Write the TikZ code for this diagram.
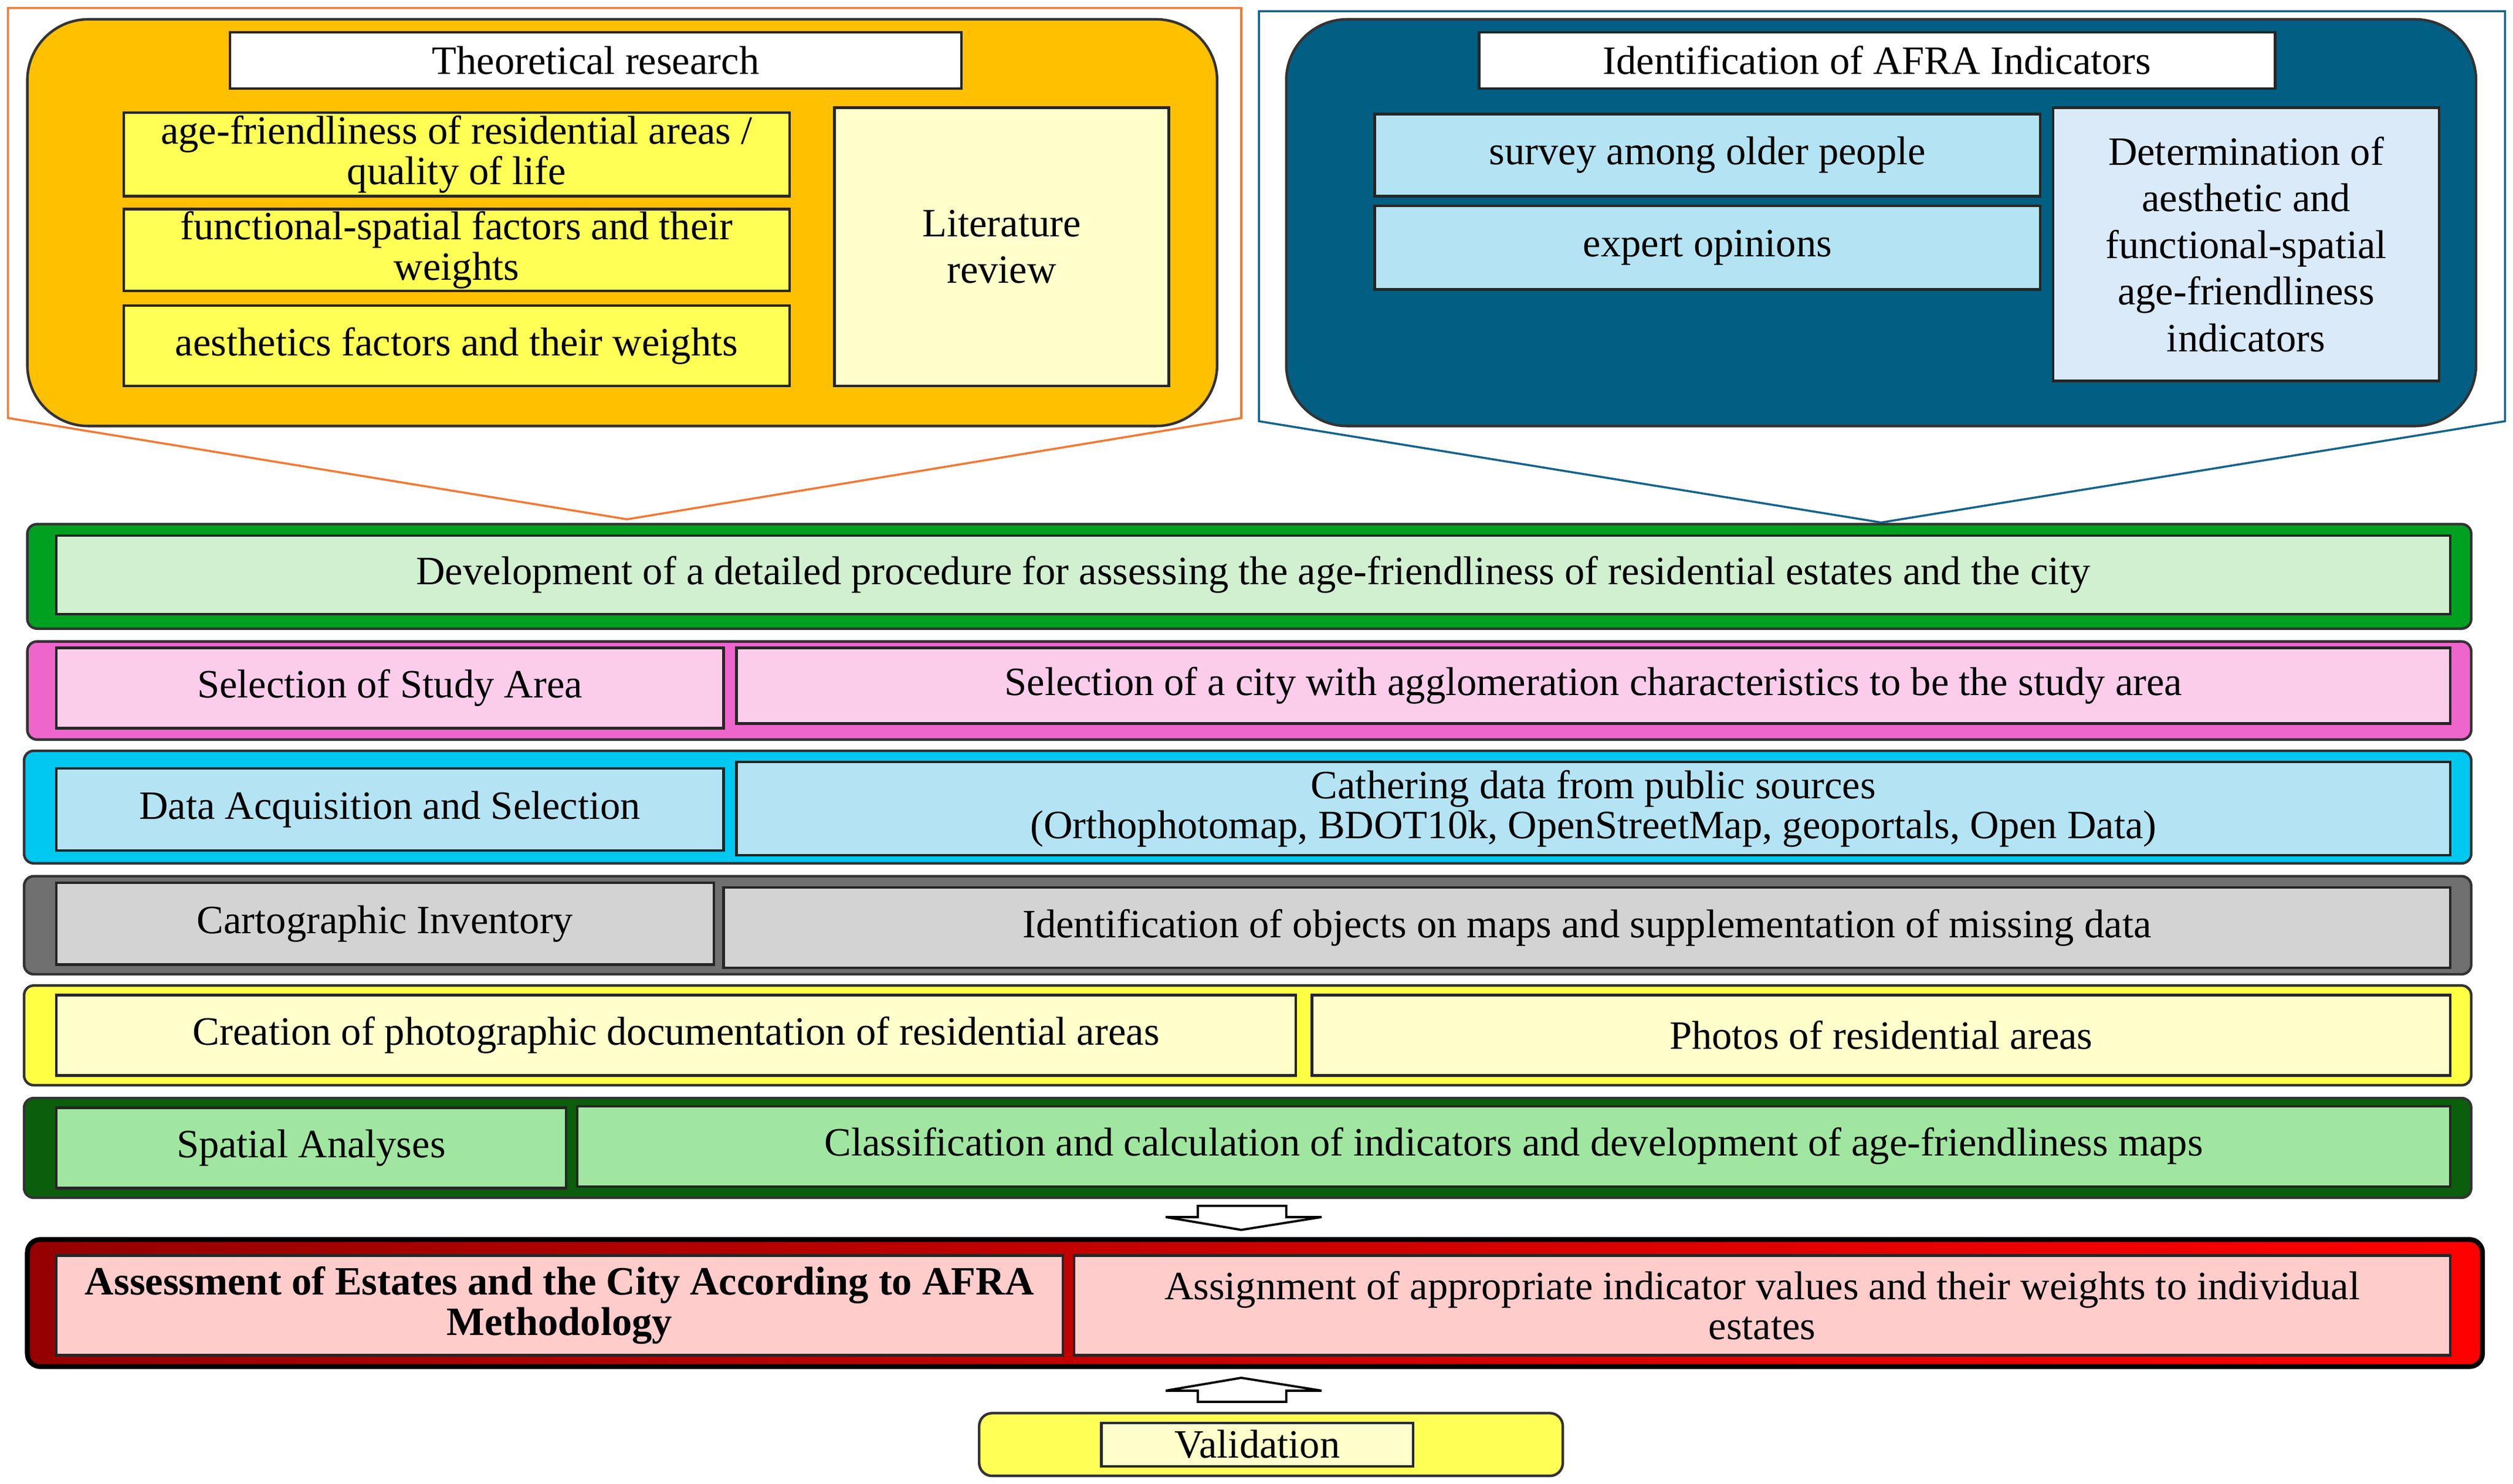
\documentclass[tikz,border=0pt]{standalone}
\usepackage{fontspec}
\setmainfont{Liberation Serif}
\begin{document}
\newcommand\bx[7]{\node[#6,anchor=north west,minimum width={(#4-#2)*1pt},minimum height={(#5-#3)*1pt}] (#1) at (#2,#3) {#7};}
\begin{tikzpicture}[x=1pt,y=-1pt,
  every node/.style={inner sep=1pt,outer sep=0pt,align=center,font=\fontsize{25}{29}\selectfont},
  b/.style={draw=black!85,line width=1.6pt},
  outer/.style={draw=black!80,line width=1.6pt,rounded corners=6pt},
  barrow/.style={draw=black,line width=1.4pt,fill=white}]
\useasboundingbox (0,0) rectangle (1563,923);
\definecolor{org}{HTML}{FFC000}\definecolor{yel}{HTML}{FFFF55}\definecolor{ltyel}{HTML}{FFFFCC}
\definecolor{dblue}{HTML}{005F83}\definecolor{lblue}{HTML}{B4E4F4}\definecolor{pblue}{HTML}{DAEAF8}
% top left
\draw[draw={rgb,255:red,245;green,120;blue,50},line width=1.3pt] (5,5)--(772,5)--(772,260)--(390,323)--(5,260)--cycle;
\bx{tl}{17}{12}{757}{265}{outer,fill=org,rounded corners=38pt}{}
\bx{tr}{143}{20}{598}{55}{b,fill=white}{Theoretical research}
\bx{a1}{77}{70}{491}{122}{b,fill=yel}{age-friendliness of residential areas /\\[-4pt]quality of life}
\bx{a2}{77}{130}{491}{181}{b,fill=yel}{functional-spatial factors and their\\[-4pt]weights}
\bx{a3}{77}{190}{491}{240}{b,fill=yel}{aesthetics factors and their weights}
\bx{lr}{519}{67}{727}{240}{b,fill=ltyel}{Literature\\review}
% top right
\draw[draw={rgb,255:red,20;green,100;blue,140},line width=1.3pt] (783,7)--(1558,7)--(1558,262)--(1170,325)--(783,262)--cycle;
\bx{trb}{800}{12}{1540}{265}{outer,fill=dblue,rounded corners=38pt}{}
\bx{ia}{920}{20}{1415}{55}{b,fill=white}{Identification of AFRA Indicators}
\bx{s1}{855}{71}{1269}{122}{b,fill=lblue}{survey among older people}
\bx{s2}{855}{128}{1269}{180}{b,fill=lblue}{expert opinions}
\bx{det}{1277}{67}{1517}{237}{b,fill=pblue}{Determination of\\aesthetic and\\functional-spatial\\age-friendliness\\indicators}
% rows
\bx{r1}{17}{326}{1537}{391}{outer,fill={rgb,255:red,0;green,160;blue,32}}{}
\bx{r1a}{35}{333}{1524}{382}{b,fill={rgb,255:red,208;green,240;blue,208}}{Development of a detailed procedure for assessing the age-friendliness of residential estates and the city}
\bx{r2}{17}{399}{1537}{460}{outer,fill={rgb,255:red,238;green,102;blue,204}}{}
\bx{r2a}{35}{403}{450}{453}{b,fill={rgb,255:red,251;green,205;blue,235}}{Selection of Study Area}
\bx{r2b}{458}{403}{1524}{450}{b,fill={rgb,255:red,251;green,205;blue,235}}{Selection of a city with agglomeration characteristics to be the study area}
\bx{r3}{15}{467}{1537}{537}{outer,fill={rgb,255:red,0;green,200;blue,240}}{}
\bx{r3a}{35}{478}{450}{529}{b,fill=lblue}{Data Acquisition and Selection}
\bx{r3b}{458}{474}{1524}{532}{b,fill=lblue}{Cathering data from public sources\\[-4pt](Orthophotomap, BDOT10k, OpenStreetMap, geoportals, Open Data)}
\bx{r4}{15}{545}{1537}{606}{outer,fill={rgb,255:red,112;green,112;blue,112}}{}
\bx{r4a}{35}{549}{444}{600}{b,fill={rgb,255:red,211;green,211;blue,211}}{Cartographic Inventory}
\bx{r4b}{450}{552}{1524}{602}{b,fill={rgb,255:red,211;green,211;blue,211}}{Identification of objects on maps and supplementation of missing data}
\bx{r5}{15}{613}{1537}{675}{outer,fill={rgb,255:red,255;green,255;blue,68}}{}
\bx{r5a}{35}{619}{806}{669}{b,fill=ltyel}{Creation of photographic documentation of residential areas}
\bx{r5b}{816}{619}{1524}{669}{b,fill=ltyel}{Photos of residential areas}
\bx{r6}{15}{683}{1537}{745}{outer,fill={rgb,255:red,11;green,94;blue,11}}{}
\bx{r6a}{35}{689}{352}{739}{b,fill={rgb,255:red,160;green,230;blue,160}}{Spatial Analyses}
\bx{r6b}{359}{688}{1524}{738}{b,fill={rgb,255:red,160;green,230;blue,160}}{Classification and calculation of indicators and development of age-friendliness maps}
\draw[barrow] (745,750)--(800,750)--(800,757)--(822,757)--(772,765)--(725,757)--(745,757)--cycle;
\bx{r7}{17}{771}{1544}{850}{draw=black,line width=3pt,rounded corners=8pt,left color={rgb,255:red,150;green,0;blue,0},right color={rgb,255:red,255;green,0;blue,0}}{}
\bx{r7a}{35}{781}{661}{843}{b,fill={rgb,255:red,255;green,204;blue,204}}{\bfseries Assessment of Estates and the City According to AFRA\\[-4pt]\bfseries Methodology}
\bx{r7b}{668}{781}{1524}{843}{b,fill={rgb,255:red,255;green,204;blue,204}}{Assignment of appropriate indicator values and their weights to individual\\[-4pt]estates}
\draw[barrow] (745,872)--(800,872)--(800,865)--(822,865)--(772,857)--(725,865)--(745,865)--cycle;
\bx{v}{609}{879}{972}{918}{outer,fill=yel,rounded corners=8pt}{}
\bx{va}{685}{885}{879}{912}{b,fill=ltyel}{Validation}
\end{tikzpicture}
\end{document}
